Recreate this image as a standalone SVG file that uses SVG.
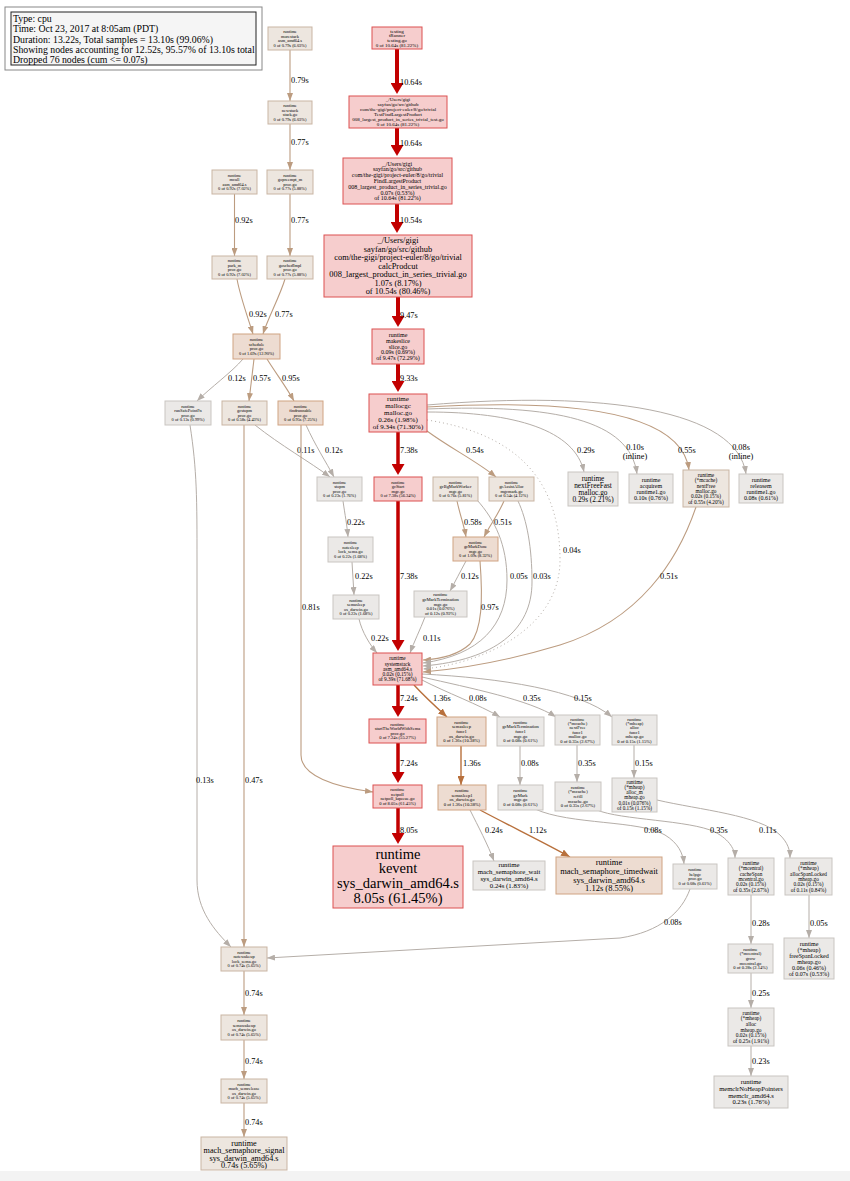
<svg xmlns="http://www.w3.org/2000/svg" width="850" height="1181" viewBox="0 0 850 1181">
<style>
text{font-family:"Liberation Serif","Times New Roman",serif;fill:#000;text-anchor:middle}
.el{font-size:8.3px;text-anchor:start}
.elm{font-size:8.3px;text-anchor:middle}
.lg{font-size:9.8px;text-anchor:start}
.red{fill:#f6cdcd;stroke:#dc5050;stroke-width:1}
.tan{fill:#eddcd1;stroke:#d0a382;stroke-width:1}
.lt{fill:#ede6df;stroke:#c9b5a3;stroke-width:1}
.gray{fill:#ebe9e7;stroke:#c9c5c1;stroke-width:1}
.e{fill:none}
.er{stroke:#c20000;stroke-width:4;fill:none}
.ers{stroke:#c20000;stroke-width:3.5;fill:none}
.eb{stroke:#b8703c;stroke-width:1.4;fill:none}
.et{stroke:#bc9c80;stroke-width:1.1;fill:none}
.eg{stroke:#b5aea8;stroke-width:1;fill:none}
.ed{stroke:#b5aea8;stroke-width:1;fill:none;stroke-dasharray:1,3}
</style>
<defs>
<marker id="mr" viewBox="0 0 10 10" refX="0" refY="5" markerWidth="11" markerHeight="13" markerUnits="userSpaceOnUse" orient="auto" preserveAspectRatio="none"><path d="M0,0 L10,5 L0,10 z" fill="#c20000"/></marker>
<marker id="mb" viewBox="0 0 10 10" refX="10" refY="5" markerWidth="9" markerHeight="7" markerUnits="userSpaceOnUse" orient="auto" preserveAspectRatio="none"><path d="M0,0 L10,5 L0,10 z" fill="#b8703c"/></marker>
<marker id="mt" viewBox="0 0 10 10" refX="10" refY="5" markerWidth="8" markerHeight="6" markerUnits="userSpaceOnUse" orient="auto" preserveAspectRatio="none"><path d="M0,0 L10,5 L0,10 z" fill="#bc9c80"/></marker>
<marker id="mg" viewBox="0 0 10 10" refX="10" refY="5" markerWidth="8" markerHeight="6" markerUnits="userSpaceOnUse" orient="auto" preserveAspectRatio="none"><path d="M0,0 L10,5 L0,10 z" fill="#b5aea8"/></marker>
</defs>
<rect x="0" y="0" width="850" height="1181" fill="#fff"/>
<rect x="0" y="1171" width="850" height="10" fill="#f3f3f3"/>

<g id="legend">
<rect x="5" y="7" width="257" height="63" fill="#fff" stroke="#888"/>
<rect x="11" y="12" width="245" height="53" fill="#f5f5f5" stroke="#222"/>
<text class="lg" x="13" y="21.7">Type: cpu</text>
<text class="lg" x="13" y="32.3">Time: Oct 23, 2017 at 8:05am (PDT)</text>
<text class="lg" x="13" y="42.7">Duration: 13.22s, Total samples = 13.10s (99.06%)</text>
<text class="lg" x="13" y="52.7">Showing nodes accounting for 12.52s, 95.57% of 13.10s total</text>
<text class="lg" x="13" y="63.3">Dropped 76 nodes (cum &lt;= 0.07s)</text>
</g>

<g id="connectors">
<path class="et" d="M290,50 L290,101" marker-end="url(#mt)"/><text class="el" x="291" y="83">0.79s</text>
<path class="et" d="M290,124 L290,170" marker-end="url(#mt)"/><text class="el" x="291" y="145">0.77s</text>
<path class="et" d="M234.5,194 L234.5,256" marker-end="url(#mt)"/><text class="el" x="235" y="223">0.92s</text>
<path class="et" d="M290,194 L290,256" marker-end="url(#mt)"/><text class="el" x="291" y="223">0.77s</text>
<path class="et" d="M237,279 C240,296 248,318 253,334" marker-end="url(#mt)"/><text class="el" x="249" y="317">0.92s</text>
<path class="et" d="M285,279 C280,296 268,318 263,334" marker-end="url(#mt)"/><text class="el" x="275" y="317">0.77s</text>
<path class="eg" d="M243,359 C232,372 210,388 197,401" marker-end="url(#mg)"/><text class="el" x="228" y="381">0.12s</text>
<path class="et" d="M254,359 L249,401" marker-end="url(#mt)"/><text class="el" x="253" y="381">0.57s</text>
<path class="et" d="M267,359 C275,372 287,388 294,401" marker-end="url(#mt)"/><text class="el" x="282" y="381">0.95s</text>
<path class="eg" d="M255,425 C280,445 310,462 330,477" marker-end="url(#mg)"/><text class="el" x="297" y="453">0.11s</text>
<path class="eg" d="M306,425 C315,445 326,462 334,477" marker-end="url(#mg)"/><text class="el" x="325" y="453">0.12s</text>
<path class="eg" d="M343,501 C345,515 347,525 348,537" marker-end="url(#mg)"/><text class="el" x="347" y="525">0.22s</text>
<path class="eg" d="M352,562 L354,595" marker-end="url(#mg)"/><text class="el" x="355" y="579">0.22s</text>
<path class="eg" d="M359,619 C362,632 370,645 377,653" marker-end="url(#mg)"/><text class="el" x="371" y="641">0.22s</text>
<path class="et" d="M301,425 L301,755 C301,776 335,787 373,792" marker-end="url(#mt)"/><text class="el" x="302" y="610">0.81s</text>
<path class="eg" d="M190,425 C197,470 197,500 197,560 L197,880 C197,910 214,930 231,947" marker-end="url(#mg)"/><text class="el" x="196" y="783">0.13s</text>
<path class="et" d="M244,425 L244,947" marker-end="url(#mt)"/><text class="el" x="245" y="783">0.47s</text>

<path class="er" d="M397,49 L397,83" marker-end="url(#mr)"/><text class="el" x="400" y="85">10.64s</text>
<path class="er" d="M397,128 L397,145" marker-end="url(#mr)"/><text class="el" x="400" y="146">10.64s</text>
<path class="er" d="M397,204 L397,222" marker-end="url(#mr)"/><text class="el" x="400" y="223">10.54s</text>
<path class="er" d="M398,297 L398,316" marker-end="url(#mr)"/><text class="el" x="400" y="318">9.47s</text>
<path class="er" d="M398,364 L398,381" marker-end="url(#mr)"/><text class="el" x="400" y="381">9.33s</text>
<path class="ers" d="M398,432 L398,464" marker-end="url(#mr)"/><text class="el" x="400" y="453">7.38s</text>
<path class="ers" d="M398,501 L398,640" marker-end="url(#mr)"/><text class="el" x="400" y="579">7.38s</text>

<path class="et" d="M427,431 C450,448 478,462 496,477" marker-end="url(#mt)"/><text class="el" x="466" y="453">0.54s</text>
<path class="et" d="M457,501 C460,515 464,525 466,537" marker-end="url(#mt)"/><text class="el" x="464" y="525">0.58s</text>
<path class="et" d="M504,501 C498,515 490,525 484,537" marker-end="url(#mt)"/><text class="el" x="494" y="525">0.51s</text>
<path class="eg" d="M466,561 C460,572 455,582 450,591" marker-end="url(#mg)"/><text class="el" x="461" y="579">0.12s</text>
<path class="et" d="M480,561 C483,600 482,630 470,644 C458,655 442,659 423,660" marker-end="url(#mt)"/><text class="el" x="481" y="610">0.97s</text>
<path class="eg" d="M425,617 C420,630 414,642 410,653" marker-end="url(#mg)"/><text class="el" x="423" y="641">0.11s</text>
<path class="eg" d="M477,500 C495,520 507,545 507,580 C507,625 480,655 423,663" marker-end="url(#mg)"/><text class="el" x="510" y="579">0.05s</text>
<path class="eg" d="M518,501 C527,520 532,548 532,582 C532,630 495,660 423,666" marker-end="url(#mg)"/><text class="el" x="533" y="579">0.03s</text>
<path class="ed" d="M427,420 C505,432 560,470 560,560 C560,630 480,664 423,669" marker-end="url(#mg)"/><text class="el" x="563" y="553">0.04s</text>
<path class="et" d="M696,507 C678,560 640,620 560,645 C500,663 460,669 423,672" marker-end="url(#mt)"/><text class="el" x="660" y="579">0.51s</text>
<path class="eg" d="M427,412 C515,412 575,430 584,472" marker-end="url(#mg)"/><text class="el" x="577" y="453">0.29s</text>
<path class="eg" d="M427,409 C555,404 630,420 637,474" marker-end="url(#mg)"/><text class="elm" x="635" y="449.5">0.10s</text><text class="elm" x="635" y="458.5">(inline)</text>
<path class="et" d="M427,407 C585,398 682,415 689,470" marker-end="url(#mt)"/><text class="el" x="678" y="453">0.55s</text>
<path class="eg" d="M427,405 C605,390 737,410 746,474" marker-end="url(#mg)"/><text class="elm" x="741" y="449.5">0.08s</text><text class="elm" x="741" y="458.5">(inline)</text>

<path class="ers" d="M398,685 L398,706" marker-end="url(#mr)"/><text class="el" x="400" y="701">7.24s</text>
<path class="eb" d="M414,685 C425,697 436,707 447,717" marker-end="url(#mb)"/><text class="el" x="433" y="701">1.36s</text>
<path class="eg" d="M422,680 C445,692 480,705 500,717" marker-end="url(#mg)"/><text class="el" x="469" y="701">0.08s</text>
<path class="eg" d="M422,677 C470,688 530,700 556,717" marker-end="url(#mg)"/><text class="el" x="523" y="701">0.35s</text>
<path class="eg" d="M422,674 C500,678 580,690 612,717" marker-end="url(#mg)"/><text class="el" x="574" y="701">0.15s</text>
<path class="ers" d="M398,743 L398,772" marker-end="url(#mr)"/><text class="el" x="400" y="766">7.24s</text>
<path class="eb" d="M461,746 L461,785" marker-end="url(#mb)"/><text class="el" x="463" y="766">1.36s</text>
<path class="eg" d="M520,746 L520,785" marker-end="url(#mg)"/><text class="el" x="521" y="766">0.08s</text>
<path class="eg" d="M577,745 L577,782" marker-end="url(#mg)"/><text class="el" x="578" y="766">0.35s</text>
<path class="eg" d="M634,745 L634,778" marker-end="url(#mg)"/><text class="el" x="635" y="766">0.15s</text>
<path class="ers" d="M398,808 L398,833" marker-end="url(#mr)"/><text class="el" x="400" y="833">8.05s</text>
<path class="eg" d="M470,810 C478,826 488,845 494,861" marker-end="url(#mg)"/><text class="el" x="485" y="833">0.24s</text>
<path class="eb" d="M480,810 C510,826 545,843 570,857" marker-end="url(#mb)"/><text class="el" x="529" y="833">1.12s</text>
<path class="eg" d="M535,809 C570,825 640,820 665,835 C678,843 683,853 684,864" marker-end="url(#mg)"/><text class="el" x="644" y="833">0.08s</text>
<path class="eg" d="M597,810 C620,820 690,820 715,832 C730,840 735,850 735,858" marker-end="url(#mg)"/><text class="el" x="710" y="833">0.35s</text>
<path class="eg" d="M657,800 C700,810 760,815 780,835 C788,843 790,850 790,858" marker-end="url(#mg)"/><text class="el" x="759" y="833">0.11s</text>
<path class="eg" d="M690,889 C682,912 660,932 620,938 L267,958" marker-end="url(#mg)"/><text class="el" x="664" y="925">0.08s</text>
<path class="eg" d="M751,895 L751,944" marker-end="url(#mg)"/><text class="el" x="752" y="926">0.28s</text>
<path class="eg" d="M809,895 L809,938" marker-end="url(#mg)"/><text class="el" x="810" y="926">0.05s</text>
<path class="eg" d="M751,973 L751,1008" marker-end="url(#mg)"/><text class="el" x="752" y="996">0.25s</text>
<path class="eg" d="M751,1046 L751,1076" marker-end="url(#mg)"/><text class="el" x="752" y="1064">0.23s</text>
<path class="et" d="M244,971 L244,1015" marker-end="url(#mt)"/><text class="el" x="245" y="996">0.74s</text>
<path class="et" d="M244,1040 L244,1079" marker-end="url(#mt)"/><text class="el" x="245" y="1064">0.74s</text>
<path class="et" d="M244,1103 L244,1137" marker-end="url(#mt)"/><text class="el" x="245" y="1125">0.74s</text>
</g>

<g id="n_morestack"><rect class="lt" x="268" y="27" width="44" height="23"/><text font-size="4.4"><tspan x="290" y="33.4">runtime</tspan><tspan x="290" y="37.8">morestack</tspan><tspan x="290" y="42.2">asm_amd64.s</tspan><tspan x="290" y="46.6">0 of 0.79s (6.03%)</tspan></text></g>
<g id="n_newstack"><rect class="lt" x="268" y="101" width="44" height="23"/><text font-size="4.4"><tspan x="290" y="107.4">runtime</tspan><tspan x="290" y="111.8">newstack</tspan><tspan x="290" y="116.2">stack.go</tspan><tspan x="290" y="120.6">0 of 0.79s (6.03%)</tspan></text></g>
<g id="n_mcall"><rect class="lt" x="212" y="170" width="45" height="24"/><text font-size="4.4"><tspan x="234.5" y="176.9">runtime</tspan><tspan x="234.5" y="181.3">mcall</tspan><tspan x="234.5" y="185.7">asm_amd64.s</tspan><tspan x="234.5" y="190.1">0 of 0.92s (7.02%)</tspan></text></g>
<g id="n_gopreempt_m"><rect class="lt" x="267" y="170" width="46" height="24"/><text font-size="4.4"><tspan x="290" y="176.9">runtime</tspan><tspan x="290" y="181.3">gopreempt_m</tspan><tspan x="290" y="185.7">proc.go</tspan><tspan x="290" y="190.1">0 of 0.77s (5.88%)</tspan></text></g>
<g id="n_park_m"><rect class="lt" x="212" y="256" width="45" height="23"/><text font-size="4.4"><tspan x="234.5" y="262.4">runtime</tspan><tspan x="234.5" y="266.8">park_m</tspan><tspan x="234.5" y="271.2">proc.go</tspan><tspan x="234.5" y="275.6">0 of 0.92s (7.02%)</tspan></text></g>
<g id="n_goschedImpl"><rect class="lt" x="267" y="256" width="46" height="23"/><text font-size="4.4"><tspan x="290" y="262.4">runtime</tspan><tspan x="290" y="266.8">goschedImpl</tspan><tspan x="290" y="271.2">proc.go</tspan><tspan x="290" y="275.6">0 of 0.77s (5.88%)</tspan></text></g>
<g id="n_schedule"><rect class="tan" x="233" y="334" width="47" height="25"/><text font-size="4.4"><tspan x="256.5" y="341.4">runtime</tspan><tspan x="256.5" y="345.8">schedule</tspan><tspan x="256.5" y="350.2">proc.go</tspan><tspan x="256.5" y="354.6">0 of 1.69s (12.90%)</tspan></text></g>
<g id="n_runSafePointFn"><rect class="gray" x="165" y="401" width="46" height="24"/><text font-size="4.4"><tspan x="188" y="407.9">runtime</tspan><tspan x="188" y="412.3">runSafePointFn</tspan><tspan x="188" y="416.7">proc.go</tspan><tspan x="188" y="421.1">0 of 0.13s (0.99%)</tspan></text></g>
<g id="n_gcstopm"><rect class="lt" x="222" y="401" width="45" height="24"/><text font-size="4.4"><tspan x="244.5" y="407.9">runtime</tspan><tspan x="244.5" y="412.3">gcstopm</tspan><tspan x="244.5" y="416.7">proc.go</tspan><tspan x="244.5" y="421.1">0 of 0.58s (4.43%)</tspan></text></g>
<g id="n_findrunnable"><rect class="tan" x="278" y="401" width="45" height="24"/><text font-size="4.4"><tspan x="300.5" y="407.9">runtime</tspan><tspan x="300.5" y="412.3">findrunnable</tspan><tspan x="300.5" y="416.7">proc.go</tspan><tspan x="300.5" y="421.1">0 of 0.95s (7.25%)</tspan></text></g>
<g id="n_stopm"><rect class="gray" x="317" y="477" width="45" height="24"/><text font-size="4.4"><tspan x="339.5" y="483.9">runtime</tspan><tspan x="339.5" y="488.3">stopm</tspan><tspan x="339.5" y="492.7">proc.go</tspan><tspan x="339.5" y="497.1">0 of 0.23s (1.76%)</tspan></text></g>
<g id="n_notesleep"><rect class="gray" x="328" y="537" width="45" height="25"/><text font-size="4.4"><tspan x="350.5" y="544.4">runtime</tspan><tspan x="350.5" y="548.8">notesleep</tspan><tspan x="350.5" y="553.2">lock_sema.go</tspan><tspan x="350.5" y="557.6">0 of 0.22s (1.68%)</tspan></text></g>
<g id="n_semasleep"><rect class="gray" x="333" y="595" width="46" height="24"/><text font-size="4.4"><tspan x="356" y="601.9">runtime</tspan><tspan x="356" y="606.3">semasleep</tspan><tspan x="356" y="610.7">os_darwin.go</tspan><tspan x="356" y="615.1">0 of 0.22s (1.68%)</tspan></text></g>

<g id="n_tRunner"><rect class="red" x="372" y="27" width="50" height="22"/><text font-size="5"><tspan x="397" y="32.5">testing</tspan><tspan x="397" y="37.3">tRunner</tspan><tspan x="397" y="42.1">testing.go</tspan><tspan x="397" y="46.9">0 of 10.64s (81.22%)</tspan></text></g>
<g id="n_TestFindLargestProduct"><rect class="red" x="349" y="96" width="98" height="32"/><text font-size="5"><tspan x="398" y="101.2">_/Users/gigi</tspan><tspan x="398" y="106.2">sayfan/go/src/github</tspan><tspan x="398" y="111.2">com/the-gigi/project-euler/8/go/trivial</tspan><tspan x="398" y="116.2">TestFindLargestProduct</tspan><tspan x="398" y="121.2">008_largest_product_in_series_trivial_test.go</tspan><tspan x="398" y="126.2">0 of 10.64s (81.22%)</tspan></text></g>
<g id="n_FindLargestProduct"><rect class="red" x="343" y="158" width="109" height="46"/><text font-size="6"><tspan x="397.5" y="165.6">_/Users/gigi</tspan><tspan x="397.5" y="171.4">sayfan/go/src/github</tspan><tspan x="397.5" y="177.2">com/the-gigi/project-euler/8/go/trivial</tspan><tspan x="397.5" y="183">FindLargestProduct</tspan><tspan x="397.5" y="188.8">008_largest_product_in_series_trivial.go</tspan><tspan x="397.5" y="194.6">0.07s (0.53%)</tspan><tspan x="397.5" y="200.4">of 10.64s (81.22%)</tspan></text></g>
<g id="n_calcProdcut"><rect class="red" x="324" y="235" width="148" height="62"/><text font-size="8.4"><tspan x="398" y="243.3">_/Users/gigi</tspan><tspan x="398" y="251.8">sayfan/go/src/github</tspan><tspan x="398" y="260.3">com/the-gigi/project-euler/8/go/trivial</tspan><tspan x="398" y="268.8">calcProdcut</tspan><tspan x="398" y="277.3">008_largest_product_in_series_trivial.go</tspan><tspan x="398" y="285.8">1.07s (8.17%)</tspan><tspan x="398" y="294.3">of 10.54s (80.46%)</tspan></text></g>
<g id="n_makeslice"><rect class="red" x="372" y="329" width="52" height="35"/><text font-size="6"><tspan x="398" y="336.7">runtime</tspan><tspan x="398" y="342.6">makeslice</tspan><tspan x="398" y="348.5">slice.go</tspan><tspan x="398" y="354.4">0.09s (0.69%)</tspan><tspan x="398" y="360.3">of 9.47s (72.29%)</tspan></text></g>
<g id="n_mallocgc"><rect class="red" x="369" y="394" width="58" height="38"/><text font-size="7"><tspan x="398" y="401.3">runtime</tspan><tspan x="398" y="408.3">mallocgc</tspan><tspan x="398" y="415.3">malloc.go</tspan><tspan x="398" y="422.3">0.26s (1.98%)</tspan><tspan x="398" y="429.3">of 9.34s (71.30%)</tspan></text></g>
<g id="n_gcStart"><rect class="red" x="374" y="477" width="48" height="24"/><text font-size="4.4"><tspan x="398" y="483.9">runtime</tspan><tspan x="398" y="488.3">gcStart</tspan><tspan x="398" y="492.7">mgc.go</tspan><tspan x="398" y="497.1">0 of 7.38s (56.34%)</tspan></text></g>
<g id="n_gcBgMarkWorker"><rect class="lt" x="433" y="477" width="45" height="24"/><text font-size="4.4"><tspan x="455.5" y="483.9">runtime</tspan><tspan x="455.5" y="488.3">gcBgMarkWorker</tspan><tspan x="455.5" y="492.7">mgc.go</tspan><tspan x="455.5" y="497.1">0 of 0.76s (5.81%)</tspan></text></g>
<g id="n_gcAssistAlloc"><rect class="lt" x="489" y="477" width="45" height="24"/><text font-size="4.4"><tspan x="511.5" y="483.9">runtime</tspan><tspan x="511.5" y="488.3">gcAssistAlloc</tspan><tspan x="511.5" y="492.7">mgcmark.go</tspan><tspan x="511.5" y="497.1">0 of 0.54s (4.12%)</tspan></text></g>
<g id="n_gcMarkDone"><rect class="tan" x="453" y="537" width="45" height="24"/><text font-size="4.4"><tspan x="475.5" y="543.9">runtime</tspan><tspan x="475.5" y="548.3">gcMarkDone</tspan><tspan x="475.5" y="552.7">mgc.go</tspan><tspan x="475.5" y="557.1">0 of 1.09s (8.32%)</tspan></text></g>
<g id="n_gcMarkTermination"><rect class="gray" x="414" y="591" width="53" height="26"/><text font-size="4.6"><tspan x="440.5" y="596.3">runtime</tspan><tspan x="440.5" y="600.9">gcMarkTermination</tspan><tspan x="440.5" y="605.5">mgc.go</tspan><tspan x="440.5" y="610.1">0.01s (0.076%)</tspan><tspan x="440.5" y="614.7">of 0.12s (0.92%)</tspan></text></g>
<g id="n_nextFreeFast"><rect class="gray" x="568" y="472" width="50" height="34"/><text font-size="7.3"><tspan x="593" y="480.6">runtime</tspan><tspan x="593" y="487.8">nextFreeFast</tspan><tspan x="593" y="495">malloc.go</tspan><tspan x="593" y="502.2">0.29s (2.21%)</tspan></text></g>
<g id="n_acquirem"><rect class="gray" x="629" y="474" width="44" height="29"/><text font-size="6"><tspan x="651" y="481.5">runtime</tspan><tspan x="651" y="487.5">acquirem</tspan><tspan x="651" y="493.5">runtime1.go</tspan><tspan x="651" y="499.5">0.10s (0.76%)</tspan></text></g>
<g id="n_nextFree"><rect class="lt" x="683" y="470" width="46" height="37"/><text font-size="5.3"><tspan x="706" y="476.8">runtime</tspan><tspan x="706" y="482.2">(*mcache)</tspan><tspan x="706" y="487.6">nextFree</tspan><tspan x="706" y="493">malloc.go</tspan><tspan x="706" y="498.4">0.02s (0.15%)</tspan><tspan x="706" y="503.8">of 0.55s (4.20%)</tspan></text></g>
<g id="n_releasem"><rect class="gray" x="739" y="474" width="44" height="29"/><text font-size="6"><tspan x="761" y="481.5">runtime</tspan><tspan x="761" y="487.5">releasem</tspan><tspan x="761" y="493.5">runtime1.go</tspan><tspan x="761" y="499.5">0.08s (0.61%)</tspan></text></g>
<g id="n_systemstack"><rect class="red" x="373" y="653" width="49" height="32"/><text font-size="5.3"><tspan x="397.5" y="660.4">runtime</tspan><tspan x="397.5" y="665.6">systemstack</tspan><tspan x="397.5" y="670.8">asm_amd64.s</tspan><tspan x="397.5" y="676">0.02s (0.15%)</tspan><tspan x="397.5" y="681.2">of 9.39s (71.68%)</tspan></text></g>
<g id="n_startTheWorldWithSema"><rect class="red" x="369" y="719" width="57" height="24"/><text font-size="4.6"><tspan x="397.5" y="725.6">runtime</tspan><tspan x="397.5" y="730.2">startTheWorldWithSema</tspan><tspan x="397.5" y="734.8">proc.go</tspan><tspan x="397.5" y="739.4">0 of 7.24s (55.27%)</tspan></text></g>
<g id="n_semasleep_func1"><rect class="tan" x="437" y="717" width="49" height="29"/><text font-size="4.6"><tspan x="461.5" y="723.8">runtime</tspan><tspan x="461.5" y="728.4">semasleep</tspan><tspan x="461.5" y="733">func1</tspan><tspan x="461.5" y="737.6">os_darwin.go</tspan><tspan x="461.5" y="742.2">0 of 1.36s (10.38%)</tspan></text></g>
<g id="n_gcMarkTermination_func1"><rect class="gray" x="497" y="717" width="47" height="29"/><text font-size="4.6"><tspan x="520.5" y="723.8">runtime</tspan><tspan x="520.5" y="728.4">gcMarkTermination</tspan><tspan x="520.5" y="733">func1</tspan><tspan x="520.5" y="737.6">mgc.go</tspan><tspan x="520.5" y="742.2">0 of 0.08s (0.61%)</tspan></text></g>
<g id="n_nextFree_func1"><rect class="gray" x="555" y="715" width="45" height="30"/><text font-size="4.6"><tspan x="577.5" y="720.5">runtime</tspan><tspan x="577.5" y="724.9">(*mcache)</tspan><tspan x="577.5" y="729.3">nextFree</tspan><tspan x="577.5" y="733.7">func1</tspan><tspan x="577.5" y="738.1">malloc.go</tspan><tspan x="577.5" y="742.5">0 of 0.35s (2.67%)</tspan></text></g>
<g id="n_alloc_func1"><rect class="gray" x="612" y="715" width="45" height="30"/><text font-size="4.6"><tspan x="634.5" y="720.5">runtime</tspan><tspan x="634.5" y="724.9">(*mheap)</tspan><tspan x="634.5" y="729.3">alloc</tspan><tspan x="634.5" y="733.7">func1</tspan><tspan x="634.5" y="738.1">mheap.go</tspan><tspan x="634.5" y="742.5">0 of 0.15s (1.15%)</tspan></text></g>
<g id="n_netpoll"><rect class="red" x="373" y="785" width="49" height="23"/><text font-size="4.6"><tspan x="397.5" y="791.1">runtime</tspan><tspan x="397.5" y="795.7">netpoll</tspan><tspan x="397.5" y="800.3">netpoll_kqueue.go</tspan><tspan x="397.5" y="804.9">0 of 8.05s (61.45%)</tspan></text></g>
<g id="n_semasleep1"><rect class="tan" x="438" y="785" width="48" height="25"/><text font-size="4.6"><tspan x="462" y="792.1">runtime</tspan><tspan x="462" y="796.7">semasleep1</tspan><tspan x="462" y="801.3">os_darwin.go</tspan><tspan x="462" y="805.9">0 of 1.36s (10.38%)</tspan></text></g>
<g id="n_gcMark"><rect class="gray" x="498" y="785" width="45" height="25"/><text font-size="4.6"><tspan x="520.5" y="792.1">runtime</tspan><tspan x="520.5" y="796.7">gcMark</tspan><tspan x="520.5" y="801.3">mgc.go</tspan><tspan x="520.5" y="805.9">0 of 0.08s (0.61%)</tspan></text></g>
<g id="n_refill"><rect class="gray" x="555" y="782" width="46" height="29"/><text font-size="4.6"><tspan x="578" y="788.8">runtime</tspan><tspan x="578" y="793.4">(*mcache)</tspan><tspan x="578" y="798">refill</tspan><tspan x="578" y="802.6">mcache.go</tspan><tspan x="578" y="807.2">0 of 0.35s (2.67%)</tspan></text></g>
<g id="n_alloc_m"><rect class="gray" x="612" y="778" width="45" height="34"/><text font-size="5.2"><tspan x="634.5" y="783.5">runtime</tspan><tspan x="634.5" y="788.8">(*mheap)</tspan><tspan x="634.5" y="794.1">alloc_m</tspan><tspan x="634.5" y="799.4">mheap.go</tspan><tspan x="634.5" y="804.7">0.01s (0.076%)</tspan><tspan x="634.5" y="810">of 0.15s (1.15%)</tspan></text></g>
<g id="n_kevent"><rect class="red" x="333" y="846" width="130" height="62"/><text font-size="14.5"><tspan x="398" y="858.5">runtime</tspan><tspan x="398" y="873.2">kevent</tspan><tspan x="398" y="887.9">sys_darwin_amd64.s</tspan><tspan x="398" y="902.6">8.05s (61.45%)</tspan></text></g>
<g id="n_mach_semaphore_wait"><rect class="gray" x="473" y="861" width="72" height="29"/><text font-size="6.8"><tspan x="509" y="867.4">runtime</tspan><tspan x="509" y="874.3">mach_semaphore_wait</tspan><tspan x="509" y="881.2">sys_darwin_amd64.s</tspan><tspan x="509" y="888.1">0.24s (1.83%)</tspan></text></g>
<g id="n_mach_semaphore_timedwait"><rect class="tan" x="556" y="857" width="106" height="37"/><text font-size="8.5"><tspan x="609" y="865.3">runtime</tspan><tspan x="609" y="874">mach_semaphore_timedwait</tspan><tspan x="609" y="882.7">sys_darwin_amd64.s</tspan><tspan x="609" y="891.4">1.12s (8.55%)</tspan></text></g>
<g id="n_helpgc"><rect class="gray" x="673" y="864" width="44" height="25"/><text font-size="4.4"><tspan x="695" y="871.4">runtime</tspan><tspan x="695" y="875.8">helpgc</tspan><tspan x="695" y="880.2">proc.go</tspan><tspan x="695" y="884.6">0 of 0.08s (0.61%)</tspan></text></g>
<g id="n_cacheSpan"><rect class="gray" x="728" y="858" width="46" height="37"/><text font-size="5.3"><tspan x="751" y="864.8">runtime</tspan><tspan x="751" y="870.2">(*mcentral)</tspan><tspan x="751" y="875.6">cacheSpan</tspan><tspan x="751" y="881">mcentral.go</tspan><tspan x="751" y="886.4">0.02s (0.15%)</tspan><tspan x="751" y="891.8">of 0.35s (2.67%)</tspan></text></g>
<g id="n_allocSpanLocked"><rect class="gray" x="785" y="858" width="47" height="37"/><text font-size="5.3"><tspan x="808.5" y="864.8">runtime</tspan><tspan x="808.5" y="870.2">(*mheap)</tspan><tspan x="808.5" y="875.6">allocSpanLocked</tspan><tspan x="808.5" y="881">mheap.go</tspan><tspan x="808.5" y="886.4">0.02s (0.15%)</tspan><tspan x="808.5" y="891.8">of 0.11s (0.84%)</tspan></text></g>
<g id="n_grow"><rect class="gray" x="728" y="944" width="45" height="29"/><text font-size="4.6"><tspan x="750.5" y="950.8">runtime</tspan><tspan x="750.5" y="955.4">(*mcentral)</tspan><tspan x="750.5" y="960">grow</tspan><tspan x="750.5" y="964.6">mcentral.go</tspan><tspan x="750.5" y="969.2">0 of 0.28s (2.14%)</tspan></text></g>
<g id="n_freeSpanLocked"><rect class="gray" x="784" y="938" width="50" height="41"/><text font-size="6"><tspan x="809" y="945.5">runtime</tspan><tspan x="809" y="951.5">(*mheap)</tspan><tspan x="809" y="957.5">freeSpanLocked</tspan><tspan x="809" y="963.5">mheap.go</tspan><tspan x="809" y="969.5">0.06s (0.46%)</tspan><tspan x="809" y="975.5">of 0.07s (0.53%)</tspan></text></g>
<g id="n_alloc"><rect class="gray" x="728" y="1008" width="46" height="38"/><text font-size="5.4"><tspan x="751" y="1014.8">runtime</tspan><tspan x="751" y="1020.4">(*mheap)</tspan><tspan x="751" y="1026">alloc</tspan><tspan x="751" y="1031.6">mheap.go</tspan><tspan x="751" y="1037.2">0.02s (0.15%)</tspan><tspan x="751" y="1042.8">of 0.25s (1.91%)</tspan></text></g>
<g id="n_memclrNoHeapPointers"><rect class="gray" x="714" y="1076" width="74" height="32"/><text font-size="6.6"><tspan x="751" y="1084.2">runtime</tspan><tspan x="751" y="1090.9">memclrNoHeapPointers</tspan><tspan x="751" y="1097.6">memclr_amd64.s</tspan><tspan x="751" y="1104.3">0.23s (1.76%)</tspan></text></g>
<g id="n_notewakeup"><rect class="lt" x="221" y="947" width="46" height="24"/><text font-size="4.4"><tspan x="244" y="953.9">runtime</tspan><tspan x="244" y="958.3">notewakeup</tspan><tspan x="244" y="962.7">lock_sema.go</tspan><tspan x="244" y="967.1">0 of 0.74s (5.65%)</tspan></text></g>
<g id="n_semawakeup"><rect class="lt" x="221" y="1015" width="46" height="25"/><text font-size="4.4"><tspan x="244" y="1022.4">runtime</tspan><tspan x="244" y="1026.8">semawakeup</tspan><tspan x="244" y="1031.2">os_darwin.go</tspan><tspan x="244" y="1035.6">0 of 0.74s (5.65%)</tspan></text></g>
<g id="n_mach_semrelease"><rect class="lt" x="221" y="1079" width="46" height="24"/><text font-size="4.4"><tspan x="244" y="1085.9">runtime</tspan><tspan x="244" y="1090.3">mach_semrelease</tspan><tspan x="244" y="1094.7">os_darwin.go</tspan><tspan x="244" y="1099.1">0 of 0.74s (5.65%)</tspan></text></g>
<g id="n_mach_semaphore_signal"><rect class="lt" x="201" y="1137" width="86" height="33"/><text font-size="8.2"><tspan x="244" y="1145.5">runtime</tspan><tspan x="244" y="1153.3">mach_semaphore_signal</tspan><tspan x="244" y="1161.1">sys_darwin_amd64.s</tspan><tspan x="244" y="1168.4">0.74s (5.65%)</tspan></text></g>
</svg>
